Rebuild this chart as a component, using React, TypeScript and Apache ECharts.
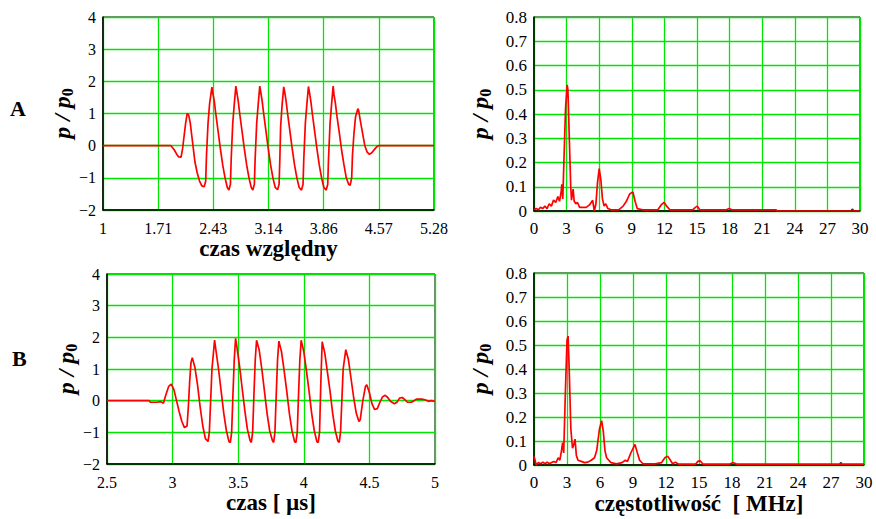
import React, { useEffect, useRef } from "react";
import * as echarts from "echarts";

// ---------- data ----------
const stepA = 5 / 7;
const xTicksA = ["1", "1.71", "2.43", "3.14", "3.86", "4.57", "5.28"];

// A: pressure vs relative time
const waveA: [number, number][] = [
  [1, 0], [1.88, 0], [1.92, -0.12], [1.95, -0.25], [1.98, -0.35], [2.01, -0.36], [2.03, -0.1],
  [2.05, 0.3], [2.07, 0.7], [2.09, 1.0], [2.11, 0.95], [2.13, 0.7], [2.15, 0.3], [2.17, -0.1],
  [2.19, -0.5], [2.22, -0.85], [2.25, -1.1], [2.28, -1.25], [2.31, -1.28],
  [2.33, -1.1], [2.34, -0.3], [2.36, 0.7], [2.38, 1.3], [2.41, 1.82], [2.42, 1.65], [2.44, 1.4],
  [2.46, 1.0], [2.49, 0.45], [2.52, -0.1], [2.55, -0.6], [2.58, -1.0], [2.61, -1.3], [2.63, -1.38],
  [2.65, -1.2], [2.66, -0.4], [2.68, 0.7], [2.7, 1.3], [2.72, 1.85], [2.73, 1.7], [2.75, 1.4],
  [2.77, 1.0], [2.8, 0.45], [2.83, -0.1], [2.86, -0.6], [2.89, -1.0], [2.92, -1.3], [2.94, -1.38],
  [2.96, -1.2], [2.97, -0.4], [2.99, 0.7], [3.01, 1.3], [3.03, 1.85], [3.04, 1.7], [3.06, 1.4],
  [3.08, 1.0], [3.11, 0.45], [3.14, -0.1], [3.17, -0.6], [3.2, -1.0], [3.23, -1.3], [3.26, -1.37],
  [3.28, -1.2], [3.29, -0.4], [3.3, 0.6], [3.32, 1.3], [3.34, 1.83], [3.35, 1.7], [3.37, 1.4],
  [3.39, 1.0], [3.42, 0.45], [3.45, -0.1], [3.48, -0.6], [3.51, -1.0], [3.54, -1.3], [3.57, -1.38],
  [3.59, -1.2], [3.6, -0.4], [3.62, 0.7], [3.64, 1.3], [3.66, 1.84], [3.67, 1.7], [3.69, 1.4],
  [3.71, 1.0], [3.74, 0.45], [3.77, -0.1], [3.8, -0.6], [3.83, -1.0], [3.86, -1.3], [3.89, -1.38],
  [3.91, -1.2], [3.92, -0.4], [3.94, 0.7], [3.96, 1.3], [3.98, 1.85], [3.99, 1.6], [4.01, 1.3],
  [4.03, 0.9], [4.06, 0.4], [4.09, -0.15], [4.12, -0.6], [4.15, -1.0], [4.18, -1.2], [4.2, -1.23],
  [4.22, -1.0], [4.23, -0.3], [4.25, 0.4], [4.27, 0.9], [4.3, 1.15], [4.31, 1.1], [4.33, 0.8],
  [4.36, 0.4], [4.39, 0.0], [4.42, -0.2], [4.45, -0.27], [4.48, -0.22], [4.52, -0.1], [4.55, -0.02],
  [4.57, 0], [1 + 6 * stepA, 0],
];

// A: spectrum
const specA: [number, number][] = [
  [0, 0.005], [0.2, 0.01], [0.4, 0.005], [0.6, 0.015], [0.8, 0.01], [1.0, 0.02], [1.2, 0.01],
  [1.4, 0.03], [1.6, 0.02], [1.8, 0.045], [2.0, 0.035], [2.2, 0.06], [2.35, 0.04], [2.5, 0.08],
  [2.56, 0.11], [2.65, 0.05], [2.75, 0.2], [2.9, 0.42], [3.05, 0.52], [3.12, 0.5], [3.25, 0.3],
  [3.38, 0.1], [3.45, 0.045], [3.6, 0.09], [3.7, 0.04], [3.85, 0.03], [4.0, 0.035], [4.2, 0.015],
  [4.5, 0.015], [4.8, 0.015], [5.1, 0.025], [5.4, 0.044], [5.55, 0.0], [5.7, 0.03], [5.85, 0.12],
  [6.0, 0.175], [6.15, 0.13], [6.3, 0.05], [6.45, 0.02], [6.6, 0.03], [6.8, 0.01], [7.1, 0.005],
  [7.8, 0.005], [8.2, 0.02], [8.5, 0.04], [8.8, 0.07], [9.1, 0.079], [9.3, 0.04], [9.5, 0.01],
  [10.0, 0.005], [11.4, 0.005], [11.7, 0.025], [11.97, 0.036], [12.2, 0.02], [12.5, 0.005],
  [14.6, 0.005], [14.85, 0.015], [15.03, 0.02], [15.25, 0.005], [17.7, 0.005], [17.96, 0.01],
  [18.2, 0.005], [22.3, 0.005], [22.3, 0.0], [30, 0.0],
];
const dotA: [number, number][] = [[29.3, 0.004]];

// B: pressure vs time [µs]
const waveB: [number, number][] = [
  [2.5, 0], [2.82, 0], [2.83, -0.05], [2.88, -0.05], [2.91, -0.03], [2.93, -0.08], [2.95, 0.2],
  [2.97, 0.45], [2.99, 0.52], [3.01, 0.35], [3.03, 0.0], [3.05, -0.35], [3.07, -0.65], [3.09, -0.85],
  [3.11, -0.8], [3.12, -0.2], [3.13, 0.6], [3.14, 1.2], [3.15, 1.36], [3.17, 1.05], [3.19, 0.5],
  [3.21, -0.2], [3.23, -0.8], [3.25, -1.2], [3.27, -1.29], [3.28, -1.0], [3.29, 0.0], [3.3, 1.0],
  [3.32, 1.91], [3.33, 1.6], [3.35, 1.0], [3.37, 0.3], [3.39, -0.4], [3.41, -0.95], [3.43, -1.3],
  [3.44, -1.32], [3.45, -1.0], [3.46, 0.2], [3.47, 1.3], [3.48, 1.97], [3.49, 1.7], [3.51, 1.1],
  [3.53, 0.4], [3.55, -0.3], [3.57, -0.9], [3.59, -1.25], [3.6, -1.32], [3.61, -1.0], [3.62, 0.2],
  [3.63, 1.3], [3.64, 1.91], [3.66, 1.6], [3.68, 1.0], [3.7, 0.3], [3.72, -0.4], [3.74, -0.95],
  [3.76, -1.25], [3.77, -1.32], [3.78, -1.0], [3.79, 0.2], [3.8, 1.3], [3.81, 1.88], [3.83, 1.55],
  [3.85, 0.95], [3.87, 0.3], [3.89, -0.4], [3.91, -0.95], [3.93, -1.3], [3.94, -1.32], [3.95, -1.0],
  [3.96, 0.2], [3.97, 1.3], [3.98, 1.91], [4.0, 1.55], [4.02, 0.95], [4.04, 0.3], [4.06, -0.4],
  [4.08, -0.95], [4.1, -1.3], [4.11, -1.32], [4.12, -1.0], [4.13, 0.6], [4.14, 1.86], [4.16, 1.5],
  [4.18, 0.9], [4.2, 0.3], [4.22, -0.4], [4.24, -0.95], [4.26, -1.28], [4.27, -1.32], [4.28, -1.0],
  [4.29, 0.0], [4.3, 1.0], [4.32, 1.61], [4.34, 1.3], [4.36, 0.7], [4.38, 0.1], [4.4, -0.4],
  [4.42, -0.66], [4.43, -0.6], [4.45, 0.0], [4.47, 0.45], [4.48, 0.5], [4.5, 0.25], [4.52, -0.1],
  [4.54, -0.28], [4.56, -0.25], [4.58, -0.05], [4.6, 0.12], [4.62, 0.17], [4.64, 0.1], [4.66, -0.02],
  [4.69, -0.1], [4.71, -0.05], [4.73, 0.08], [4.75, 0.1], [4.77, 0.03], [4.79, -0.05], [4.82, -0.05],
  [4.84, 0.0], [4.86, 0.05], [4.9, 0.05], [4.93, 0.02], [4.95, -0.02], [4.97, 0.0], [5.0, -0.02],
];

// B: spectrum [MHz]
const specB: [number, number][] = [
  [0, 0.035], [0.1, 0.02], [0.2, 0.0], [0.4, 0.01], [0.6, 0.005], [0.8, 0.012], [1.0, 0.005],
  [1.2, 0.012], [1.4, 0.005], [1.6, 0.01], [1.8, 0.015], [2.0, 0.01], [2.2, 0.03], [2.35, 0.02],
  [2.5, 0.06], [2.6, 0.093], [2.7, 0.05], [2.85, 0.3], [3.0, 0.52], [3.1, 0.537], [3.2, 0.4],
  [3.35, 0.15], [3.5, 0.07], [3.65, 0.09], [3.73, 0.108], [3.85, 0.04], [4.0, 0.02], [4.3, 0.015],
  [4.6, 0.01], [4.9, 0.012], [5.2, 0.02], [5.5, 0.03], [5.7, 0.06], [5.95, 0.15], [6.15, 0.185],
  [6.3, 0.14], [6.45, 0.06], [6.6, 0.03], [6.8, 0.02], [7.0, 0.01], [7.5, 0.005], [8.0, 0.01],
  [8.3, 0.02], [8.5, 0.015], [8.8, 0.05], [9.18, 0.086], [9.4, 0.05], [9.6, 0.02], [9.9, 0.005],
  [11.0, 0.005], [11.6, 0.01], [11.9, 0.03], [12.15, 0.037], [12.4, 0.02], [12.6, 0.005],
  [12.85, 0.012], [13.1, 0.004], [14.7, 0.004], [14.9, 0.015], [15.1, 0.018], [15.35, 0.004],
  [17.8, 0.004], [18.1, 0.01], [18.4, 0.004], [30, 0.004],
];
const dotB: [number, number][] = [[27.9, 0.006]];

// ---------- styles ----------
const FONT = "Liberation Serif";
const GREEN = "#00e600";
const RED = "#ff0000";

const minusFmt = (v: number) => (v < 0 ? "\u2212" + Math.abs(v) : String(v));

const yName = "{i|p / p}{s|0}";
const yNameStyle = {
  fontFamily: FONT,
  rich: {
    i: { fontFamily: FONT, fontSize: 24, fontWeight: "bold", fontStyle: "italic", color: "#000", lineHeight: 26 },
    s: { fontFamily: FONT, fontSize: 16, fontWeight: "bold", color: "#000", lineHeight: 26, verticalAlign: "bottom", padding: [6, 0, 0, 0] },
  },
};

function axisCommon(fontSize: number) {
  return {
    type: "value" as const,
    axisLine: { show: true, onZero: false, lineStyle: { color: "#000", width: 1.5 } },
    axisTick: { show: false },
    splitLine: { show: true, lineStyle: { color: GREEN, width: 1.3 } },
    axisLabel: { color: "#000", fontFamily: FONT, fontSize, showMinLabel: true, showMaxLabel: true },
  };
}

const xName = (text: string, gap: number) => ({
  name: text,
  nameLocation: "middle" as const,
  nameGap: gap,
  nameTextStyle: { fontFamily: FONT, fontSize: 23, fontWeight: "bold", color: "#000" },
});

export default function App() {
  const ref = useRef<HTMLDivElement>(null);
  useEffect(() => {
    if (!ref.current) return;
    const chart = echarts.init(ref.current, undefined, { renderer: "svg" });
    const gridBase = { show: true, borderColor: "#000", borderWidth: 1, containLabel: false };
    const c16 = axisCommon(16);
    const c17 = axisCommon(17);
    chart.setOption({
      animation: false,
      backgroundColor: "#fff",
      textStyle: { fontFamily: FONT },
      grid: [
        { ...gridBase, left: 103, top: 17, width: 331, height: 193 },
        { ...gridBase, left: 534, top: 17, width: 326, height: 194 },
        { ...gridBase, left: 107, top: 274, width: 328, height: 190 },
        { ...gridBase, left: 534, top: 273, width: 330, height: 192 },
      ],
      xAxis: [
        {
          ...c16, gridIndex: 0, min: 1, max: 1 + 6 * stepA, interval: stepA,
          axisLabel: { ...c16.axisLabel, margin: 10, formatter: (v: number) => xTicksA[Math.round((v - 1) / stepA)] ?? "" },
          ...xName("czas względny", 25),
        },
        { ...c17, gridIndex: 1, min: 0, max: 30, interval: 3, axisLabel: { ...c17.axisLabel, margin: 9 } },
        {
          ...c16, gridIndex: 2, min: 2.5, max: 5, interval: 0.5,
          axisLabel: { ...c16.axisLabel, margin: 10 },
          ...xName("czas [ µs]", 26),
        },
        {
          ...c17, gridIndex: 3, min: 0, max: 30, interval: 3,
          axisLabel: { ...c17.axisLabel, margin: 9 },
          ...xName("częstotliwość  [ MHz]", 26),
        },
      ],
      yAxis: [
        {
          ...c16, gridIndex: 0, min: -2, max: 4, interval: 1,
          axisLabel: { ...c16.axisLabel, margin: 7, formatter: minusFmt },
          name: yName, nameLocation: "middle", nameGap: 21, nameRotate: 90, nameTextStyle: yNameStyle,
        },
        {
          ...c17, gridIndex: 1, min: 0, max: 0.8, interval: 0.1,
          axisLabel: { ...c17.axisLabel, margin: 7 },
          name: yName, nameLocation: "middle", nameGap: 41, nameRotate: 90, nameTextStyle: yNameStyle,
        },
        {
          ...c16, gridIndex: 2, min: -2, max: 4, interval: 1,
          axisLabel: { ...c16.axisLabel, margin: 7, formatter: minusFmt },
          name: yName, nameLocation: "middle", nameGap: 21, nameRotate: 90, nameTextStyle: yNameStyle,
        },
        {
          ...c17, gridIndex: 3, min: 0, max: 0.8, interval: 0.1,
          axisLabel: { ...c17.axisLabel, margin: 7 },
          name: yName, nameLocation: "middle", nameGap: 41, nameRotate: 90, nameTextStyle: yNameStyle,
        },
      ],
      series: [
        { type: "line", xAxisIndex: 0, yAxisIndex: 0, data: waveA, symbol: "none", lineStyle: { color: RED, width: 1.7 } },
        { type: "line", xAxisIndex: 1, yAxisIndex: 1, data: specA, symbol: "none", lineStyle: { color: RED, width: 1.7 } },
        { type: "line", xAxisIndex: 2, yAxisIndex: 2, data: waveB, symbol: "none", lineStyle: { color: RED, width: 1.7 } },
        { type: "line", xAxisIndex: 3, yAxisIndex: 3, data: specB, symbol: "none", lineStyle: { color: RED, width: 1.7 } },
        { type: "scatter", xAxisIndex: 1, yAxisIndex: 1, data: dotA, symbolSize: 3, itemStyle: { color: "#000" } },
        { type: "scatter", xAxisIndex: 3, yAxisIndex: 3, data: dotB, symbolSize: 3, itemStyle: { color: "#000" } },
      ],
      graphic: [
        { type: "text", left: 10, top: 97, style: { text: "A", font: `bold 22px ${FONT}`, fill: "#000" } },
        { type: "text", left: 12, top: 347, style: { text: "B", font: `bold 22px ${FONT}`, fill: "#000" } },
      ],
    });
    return () => chart.dispose();
  }, []);
  return <div ref={ref} style={{ position: "fixed", left: 0, top: 0, width: 876, height: 519, background: "#fff" }} />;
}
